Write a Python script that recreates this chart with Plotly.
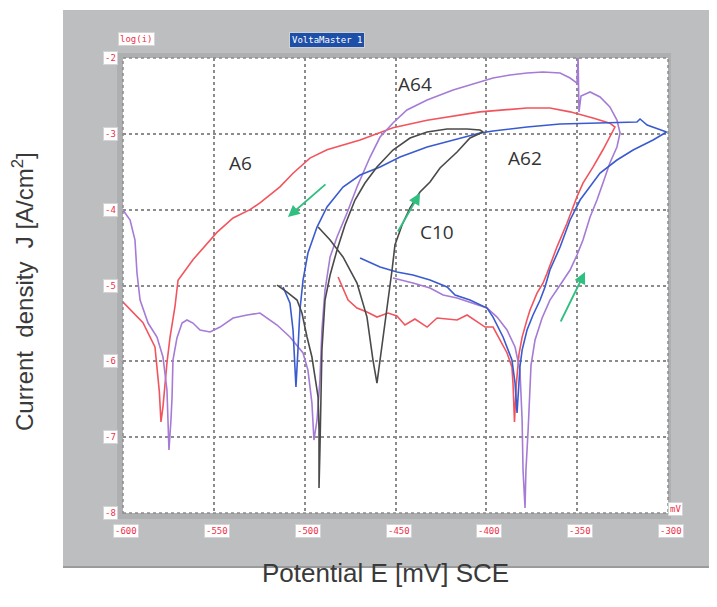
import plotly.graph_objects as go

# ---------------- data (E in mV vs SCE, log|i|) ----------------
a6_E = [-481.6, -478.9, -476.1, -471.2, -465.7, -460.2, -454.1, -449.2, -444.8, -439.3,
        -432.6, -427.1, -421.6, -416.1, -410.6, -405.1, -400.7, -396.3, -392.5, -388.6,
        -385.9, -385.3, -384.5, -383.5, -382.0, -380.3, -377.6, -375.9, -372.1, -368.8,
        -366.6, -361.1, -355.6, -350.1, -346.8, -341.3, -335.8, -330.9, -329.2, -332.0,
        -341.3, -353.9, -365.0, -377.6, -392.5, -403.5, -432.6, -451.4, -469.5, -487.7,
        -497.1, -506.4, -513.6, -524.6, -530.1, -539.4, -548.3, -561.5, -569.7, -571.4,
        -574.1, -575.8, -578.0, -579.1, -580.0, -580.7, -582.4, -589.0, -600.0]
a6_logi = [-4.888, -5.033, -5.192, -5.297, -5.350, -5.416, -5.363, -5.402, -5.521, -5.442,
           -5.548, -5.429, -5.442, -5.455, -5.389, -5.482, -5.548, -5.548, -5.719, -5.890,
           -6.075, -6.300, -6.800, -6.300, -5.900, -5.680, -5.450, -5.320, -5.100, -4.970,
           -4.840, -4.490, -4.180, -3.830, -3.650, -3.440, -3.210, -2.990, -2.910, -2.860,
           -2.790, -2.710, -2.660, -2.660, -2.690, -2.710, -2.820, -2.920, -3.080, -3.210,
           -3.320, -3.520, -3.700, -3.910, -4.000, -4.110, -4.300, -4.660, -4.930, -5.280,
           -5.680, -6.020, -6.600, -6.800, -6.400, -6.250, -5.810, -5.490, -5.220]

a64_E = [-600.0, -596.1, -593.4, -592.3, -590.6, -586.2, -581.3, -578.0, -575.8, -575.2,
         -574.7, -573.6, -573.0, -572.5, -570.3, -567.5, -564.8, -561.5, -557.6, -552.1,
         -546.6, -539.4, -531.7, -524.6, -515.2, -508.1, -500.9, -498.2, -496.0, -494.9,
         -493.2, -491.6, -490.5, -488.8, -486.0, -482.2, -476.7, -471.2, -464.0, -458.5,
         -451.4, -443.7, -432.6, -418.3, -405.1, -396.3, -386.9, -377.6, -368.8, -359.4,
         -353.9, -350.1, -349.5, -349.0, -347.9, -342.9, -337.4, -332.0, -328.1, -326.4,
         -328.1, -332.0, -335.8, -339.1, -342.9, -346.8, -350.1, -353.9, -359.4, -365.0,
         -369.3, -373.2, -375.4, -375.9, -377.0, -378.2, -378.7, -379.8, -380.3, -381.5,
         -384.2, -388.6, -394.1, -399.6, -407.3, -416.1, -423.8, -431.0, -440.4, -451.4]
a64_logi = [-4.005, -4.136, -4.400, -4.835, -5.191, -5.495, -5.679, -5.943, -6.378, -6.906,
            -7.170, -6.774, -6.471, -5.983, -5.692, -5.495, -5.455, -5.495, -5.587, -5.613,
            -5.548, -5.429, -5.389, -5.363, -5.521, -5.679, -5.890, -6.115, -6.550, -7.038,
            -6.774, -6.247, -5.587, -5.060, -4.624, -4.361, -4.044, -3.701, -3.306, -3.042,
            -2.857, -2.686, -2.554, -2.422, -2.330, -2.264, -2.224, -2.198, -2.185, -2.198,
            -2.264, -2.330, -2.000, -2.712, -2.501, -2.448, -2.514, -2.646, -2.818, -2.989,
            -3.174, -3.385, -3.649, -3.873, -4.097, -4.400, -4.598, -4.796, -4.994, -5.192,
            -5.429, -5.719, -6.049, -6.378, -6.906, -7.433, -7.935, -7.433, -6.774, -6.115,
            -5.811, -5.587, -5.416, -5.297, -5.231, -5.165, -5.126, -5.033, -4.967, -4.901]

a62_E = [-511.9, -508.1, -506.4, -505.3, -504.8, -503.7, -502.6, -500.9, -498.2, -493.2,
         -487.7, -478.9, -469.5, -458.5, -447.5, -432.6, -418.3, -403.5, -396.3, -377.6,
         -359.4, -341.3, -317.1, -315.4, -311.5, -300.8, -308.2, -319.2, -328.1, -337.4,
         -342.9, -348.4, -353.9, -359.4, -365.0, -367.7, -370.4, -374.3, -377.6, -380.3,
         -381.5, -382.5, -383.1, -384.2, -385.9, -390.8, -396.3, -399.6, -409.0, -417.2,
         -421.6, -431.0, -440.4, -449.2, -458.5, -469.5]
a62_logi = [-5.020, -5.231, -5.587, -6.022, -6.339, -5.851, -5.323, -4.928, -4.572, -4.229,
            -3.965, -3.701, -3.543, -3.437, -3.306, -3.174, -3.081, -2.989, -2.963, -2.910,
            -2.870, -2.857, -2.844, -2.804, -2.884, -2.976, -3.081, -3.213, -3.345, -3.517,
            -3.701, -3.873, -4.136, -4.493, -4.796, -5.020, -5.192, -5.389, -5.587, -5.851,
            -6.075, -6.378, -6.682, -6.286, -5.983, -5.679, -5.416, -5.297, -5.192, -5.126,
            -5.020, -4.928, -4.862, -4.822, -4.756, -4.638]

c10_E = [-515.2, -509.7, -504.2, -501.5, -498.7, -496.0, -494.3, -492.6, -492.1, -492.1,
         -491.6, -491.0, -490.5, -488.8, -486.0, -482.2, -477.8, -472.3, -466.8, -460.2,
         -451.4, -442.0, -432.6, -421.6, -410.6, -403.5, -401.8, -409.0, -416.1, -425.5,
         -431.0, -436.5, -442.0, -446.4, -450.3, -451.9, -454.1, -456.9, -460.2, -462.4,
         -465.7, -471.2, -478.9, -486.0, -492.6]
c10_logi = [-4.994, -5.086, -5.192, -5.363, -5.679, -5.943, -6.207, -6.471, -6.906, -7.671,
            -7.170, -6.510, -5.851, -5.192, -4.862, -4.532, -4.202, -3.873, -3.649, -3.437,
            -3.213, -3.055, -2.976, -2.936, -2.936, -2.950, -2.976, -3.055, -3.240, -3.451,
            -3.635, -3.767, -3.978, -4.202, -4.466, -4.796, -5.192, -5.627, -6.286, -5.983,
            -5.416, -4.967, -4.624, -4.400, -4.229]

x_ticks = [-600, -550, -500, -450, -400, -350, -300]
y_ticks = [-2, -3, -4, -5, -6, -7, -8]

labels = ["A6", "A64", "A62", "C10"]
label_E = [-535.5, -439.3, -378.7, -427.1]
label_logi = [-3.385, -2.343, -3.319, -4.295]

# ---------------- figure ----------------
fig = go.Figure()
series = [
    (a6_E, a6_logi, "#F2545E"),
    (a64_E, a64_logi, "#A57BD6"),
    (a62_E, a62_logi, "#3A5BD0"),
    (c10_E, c10_logi, "#4A4A4A"),
]
for xs, ys, col in series:
    fig.add_trace(go.Scatter(x=xs, y=ys, mode="lines",
                             line=dict(color=col, width=1.6), showlegend=False,
                             hoverinfo="skip"))

OFF = 8  # page offset of the figure inside the browser page
W, H = 709, 599
L, T = 115, 50
pw, ph = 545, 455
R, B = W - L - pw, H - T - ph


def px(xp):
    return (xp - OFF - L) / pw


def py(yp):
    return (H - B - (yp - OFF)) / ph


shapes = [
    # gray instrument panel
    dict(type="rect", xref="paper", yref="paper", x0=px(63), x1=px(712), y0=py(567), y1=py(10),
         fillcolor="#BDBEC0", line=dict(width=0), layer="below"),
    dict(type="line", xref="paper", yref="paper", x0=px(63), x1=px(712), y0=py(567), y1=py(567),
         line=dict(color="#9A9B9D", width=2), layer="below"),
    dict(type="rect", xref="paper", yref="paper", x0=px(117), x1=px(671), y0=py(519), y1=py(53),
         fillcolor="#AEAFB1", line=dict(width=0), layer="below"),
    dict(type="rect", xref="paper", yref="paper", x0=0, x1=1, y0=0, y1=1,
         fillcolor="white", line=dict(width=0), layer="below"),
    # dashed frame
    dict(type="rect", xref="paper", yref="paper", x0=0, x1=1, y0=0, y1=1,
         line=dict(color="#8C8C8C", width=1.5, dash="dot"), layer="above"),
]

annotations = []
box = dict(bgcolor="white", bordercolor="#D4D4D4", borderwidth=1, borderpad=1,
           font=dict(family="DejaVu Sans Mono", size=9, color="#F0304A"))
for v in y_ticks:
    annotations.append(dict(x=px(103), y=v, xref="paper", yref="y", text=str(v),
                            showarrow=False, **box))
for v in x_ticks:
    annotations.append(dict(x=v, y=py(538), xref="x", yref="paper", text=str(v),
                            xshift=3, showarrow=False, **box))
annotations.append(dict(x=px(683), y=py(516), xref="paper", yref="paper", text="mV",
                        showarrow=False, **box))
annotations.append(dict(x=px(118), y=py(32), xref="paper", yref="paper", text="log(i)",
                        showarrow=False, **box))
annotations.append(dict(x=px(327), y=py(32), xref="paper", yref="paper", text="VoltaMaster 1",
                        showarrow=False, bgcolor="#1E4FA8", bordercolor="#D0D0D0", borderwidth=1,
                        borderpad=2, font=dict(family="DejaVu Sans Mono", size=9, color="white")))

for t, xv, yv in zip(labels, label_E, label_logi):
    annotations.append(dict(x=xv, y=yv, xref="x", yref="y", text=t, showarrow=False,
                            font=dict(family="Open Sans", size=19, color="#333333")))

# green arrows (head at data point, tail as pixel offset)
arrows = [(-509.2, -4.097, 39, -34), (-436.5, -3.78, -23, 40), (-345.7, -4.822, -25, 51)]
for xh, yh, axo, ayo in arrows:
    annotations.append(dict(x=xh, y=yh, xref="x", yref="y", ax=axo, ay=ayo, text="",
                            showarrow=True, arrowhead=2, arrowsize=1.3, arrowwidth=1.8,
                            arrowcolor="#2FBF7F"))

# outer axis titles
annotations.append(dict(x=px(385), y=py(590), xref="paper", yref="paper",
                        text="Potential E [mV] SCE", showarrow=False,
                        font=dict(family="Liberation Sans", size=26, color="#3A3A3A")))
annotations.append(dict(x=px(22), y=py(292), xref="paper", yref="paper", textangle=-90,
                        xshift=-16,
                        text="Current  density  J [A/cm<sup>2</sup>]", showarrow=False,
                        font=dict(family="Liberation Sans", size=24, color="#3A3A3A")))

grid = dict(showgrid=True, gridcolor="#8C8C8C", gridwidth=1.5, griddash="dot",
            showticklabels=False, zeroline=False, showline=False, ticks="")
fig.update_layout(
    width=W, height=H, margin=dict(l=L, r=R, t=T, b=B, autoexpand=False),
    paper_bgcolor="white", plot_bgcolor="rgba(0,0,0,0)",
    xaxis=dict(range=[-600, -300], tickvals=x_ticks, **grid),
    yaxis=dict(range=[-8, -2], tickvals=y_ticks, **grid),
    shapes=shapes, annotations=annotations, showlegend=False,
)
fig.write_html("out.html")
